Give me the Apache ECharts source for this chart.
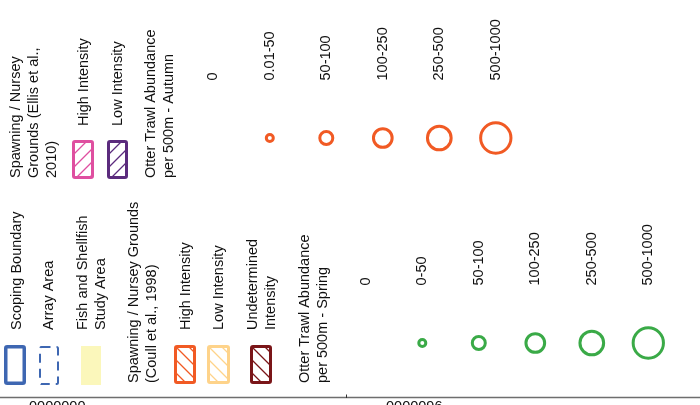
<!DOCTYPE html>
<html><head><meta charset="utf-8">
<script src="https://cdn.jsdelivr.net/npm/echarts@6/dist/echarts.min.js"></script>
<style>html,body{margin:0;padding:0;background:#fff}#c{width:700px;height:405px}</style>
</head><body><div id="c"></div>
<script>
// ---------- DATA ----------
const baseItems = ['Scoping Boundary', 'Array Area', 'Fish and Shellfish\nStudy Area'];
const coullTitle = 'Spawning / Nursey Grounds\n(Coull et al., 1998)';
const coullItems = ['High Intensity', 'Low Intensity', 'Undetermined\nIntensity'];
const ellisTitle = 'Spawning / Nursey\nGrounds (Ellis et al.,\n2010)';
const ellisItems = ['High Intensity', 'Low Intensity'];
const springTitle = 'Otter Trawl Abundance\nper 500m - Spring';
const autumnTitle = 'Otter Trawl Abundance\nper 500m - Autumn';
const springClasses = ['0', '0-50', '50-100', '100-250', '250-500', '500-1000'];
const autumnClasses = ['0', '0.01-50', '50-100', '100-250', '250-500', '500-1000'];
const frameLabels = ['0000000', '0000096'];

// ---------- STYLE / LAYOUT ----------
const FONT = '14.5px "Liberation Sans", Arial, Helvetica, sans-serif';
const TXT = '#111111';
const LH = 18;
const C = {
  blue: '#3e67b2', yellow: '#fbf7bb', orange: '#f15a24', lorange: '#fed38a',
  dred: '#7a1518', pink: '#df4fa0', purple: '#5b2b7d', green: '#3aaa47', frame: '#6e6e6e'
};
const ringDiameters = [0, 10, 16, 21.7, 26.7, 33.3];
// legend entry layout (pixel space of the hidden layout grid)
const swatches = [
  { kind: 'box', color: C.blue, lw: 3.5, x0: 4, x1: 26, y0: 345, y1: 385 },
  { kind: 'dash', color: C.blue, lw: 2, x0: 39, x1: 59, y0: 346, y1: 385 },
  { kind: 'fill', color: C.yellow, x0: 81, x1: 101, y0: 346, y1: 385 },
  { kind: 'hatch', dir: 1, color: C.orange, lw: 3, x0: 174, x1: 196, y0: 345, y1: 384 },
  { kind: 'hatch', dir: 1, color: C.lorange, lw: 3, x0: 207, x1: 230, y0: 345, y1: 384 },
  { kind: 'hatch', dir: 1, color: C.dred, lw: 3, x0: 250, x1: 272, y0: 345, y1: 384 },
  { kind: 'hatch', dir: -1, color: C.pink, lw: 3, x0: 72, x1: 94, y0: 140, y1: 179 },
  { kind: 'hatch', dir: -1, color: C.purple, lw: 3, x0: 107, x1: 128, y0: 140, y1: 179 }
];
const texts = [
  { t: baseItems[0], x: 16.5, y: 330 },
  { t: baseItems[1], x: 49, y: 330 },
  { t: baseItems[2], x: 83, y: 330 },
  { t: coullTitle, x: 134, y: 383 },
  { t: coullItems[0], x: 186, y: 330 },
  { t: coullItems[1], x: 219, y: 330 },
  { t: coullItems[2], x: 252.5, y: 330 },
  { t: springTitle, x: 305, y: 383 },
  { t: ellisTitle, x: 16, y: 178 },
  { t: ellisItems[0], x: 84, y: 126 },
  { t: ellisItems[1], x: 118, y: 126 },
  { t: autumnTitle, x: 151, y: 178 }
];
const frameText = [{ t: frameLabels[0], x: 29, y: 399 }, { t: frameLabels[1], x: 386, y: 399 }];

function rotText(p, text, firstLineCenter) {
  return {
    type: 'text', x: firstLineCenter ? p[0] - LH / 2 : p[0], y: p[1], rotation: Math.PI / 2,
    style: { text: text, fill: TXT, font: FONT, align: 'left',
      verticalAlign: firstLineCenter ? 'top' : 'middle', lineHeight: LH }
  };
}

function hatchLines(x0, y0, W, H, dir, step, color) {
  const out = [];
  for (let k = -6; k <= 8; k++) {
    const c = k * step;
    let lo, hi, pts;
    if (dir === 1) { // y = x + c
      lo = Math.max(0, -c); hi = Math.min(W, H - c);
      if (lo < hi) pts = [[lo, lo + c], [hi, hi + c]];
    } else { // y = -x + c
      lo = Math.max(0, c - H); hi = Math.min(W, c);
      if (lo < hi) pts = [[lo, c - lo], [hi, c - hi]];
    }
    if (pts) out.push({ type: 'line', shape: { x1: x0 + pts[0][0], y1: y0 + pts[0][1], x2: x0 + pts[1][0], y2: y0 + pts[1][1] },
      style: { stroke: color, lineWidth: 1.2 } });
  }
  return out;
}

function legendRender(params, api) {
  const i = params.dataIndex;
  const ch = [];
  if (i < swatches.length) {
    const s = swatches[i];
    const a = api.coord([s.x0, s.y0]), b = api.coord([s.x1, s.y1]);
    if (s.kind === 'fill') {
      ch.push({ type: 'rect', shape: { x: a[0], y: a[1], width: b[0] - a[0], height: b[1] - a[1] }, style: { fill: s.color } });
    } else {
      const h = s.lw / 2;
      const rx = a[0] + h, ry = a[1] + h, rw = b[0] - a[0] - s.lw, rh = b[1] - a[1] - s.lw;
      if (s.kind === 'hatch') ch.push(...hatchLines(rx, ry, rw, rh, s.dir, 13, s.color));
      ch.push({ type: 'rect', shape: { x: rx, y: ry, width: rw, height: rh, r: 1.5 },
        style: { fill: null, stroke: s.color, lineWidth: s.lw, lineDash: s.kind === 'dash' ? [9, 6] : null } });
    }
  } else if (i < swatches.length + texts.length) {
    const t = texts[i - swatches.length];
    ch.push(rotText(api.coord([t.x, t.y]), t.t, true));
  } else {
    // map frame edge
    const p1 = api.coord([0, 397.5]), p2 = api.coord([700, 397.5]);
    ch.push({ type: 'line', shape: { x1: p1[0], y1: p1[1], x2: p2[0], y2: p2[1] }, style: { stroke: C.frame, lineWidth: 1.5 } });
    const t1 = api.coord([346.5, 394.5]), t2 = api.coord([346.5, 398]);
    ch.push({ type: 'line', shape: { x1: t1[0], y1: t1[1], x2: t2[0], y2: t2[1] }, style: { stroke: '#333', lineWidth: 1 } });
    frameText.forEach(f => {
      const p = api.coord([f.x, f.y]);
      ch.push({ type: 'text', x: p[0], y: p[1], style: { text: f.t, fill: TXT, font: FONT, align: 'left', verticalAlign: 'top' } });
    });
  }
  return { type: 'group', children: ch };
}

function ringRender(classes, color) {
  return function (params, api) {
    const idx = api.value(0);
    const c = api.coord([idx, 0.5]);
    const d = ringDiameters[idx];
    const ch = [];
    if (d > 0) ch.push({ type: 'circle', shape: { cx: c[0], cy: c[1], r: (d - 3) / 2 }, style: { fill: null, stroke: color, lineWidth: 3 } });
    ch.push(rotText([c[0], c[1] - 57.5], classes[idx], false));
    return { type: 'group', children: ch };
  };
}

const legendData = [];
for (let i = 0; i < swatches.length + texts.length + 1; i++) legendData.push([i, 0]);

const chart = echarts.init(document.getElementById('c'), null, { renderer: 'canvas' });
chart.setOption({
  backgroundColor: '#fff',
  animation: false,
  grid: [
    { left: 0, top: 0, width: 700, height: 405 },
    { left: 185.05, top: 128, width: 339, height: 20 },
    { left: 337.55, top: 333, width: 339, height: 20 }
  ],
  xAxis: [
    { gridIndex: 0, type: 'value', min: 0, max: 700, show: false },
    { gridIndex: 1, type: 'category', data: autumnClasses, show: false },
    { gridIndex: 2, type: 'category', data: springClasses, show: false }
  ],
  yAxis: [
    { gridIndex: 0, type: 'value', min: 0, max: 405, inverse: true, show: false },
    { gridIndex: 1, type: 'value', min: 0, max: 1, show: false },
    { gridIndex: 2, type: 'value', min: 0, max: 1, show: false }
  ],
  series: [
    { type: 'custom', xAxisIndex: 0, yAxisIndex: 0, clip: false, silent: true,
      renderItem: legendRender, data: legendData },
    { type: 'custom', xAxisIndex: 1, yAxisIndex: 1, clip: false, silent: true,
      renderItem: ringRender(autumnClasses, C.orange), data: autumnClasses.map((c, i) => [i, 0.5]) },
    { type: 'custom', xAxisIndex: 2, yAxisIndex: 2, clip: false, silent: true,
      renderItem: ringRender(springClasses, C.green), data: springClasses.map((c, i) => [i, 0.5]) }
  ]
});
</script></body></html>
